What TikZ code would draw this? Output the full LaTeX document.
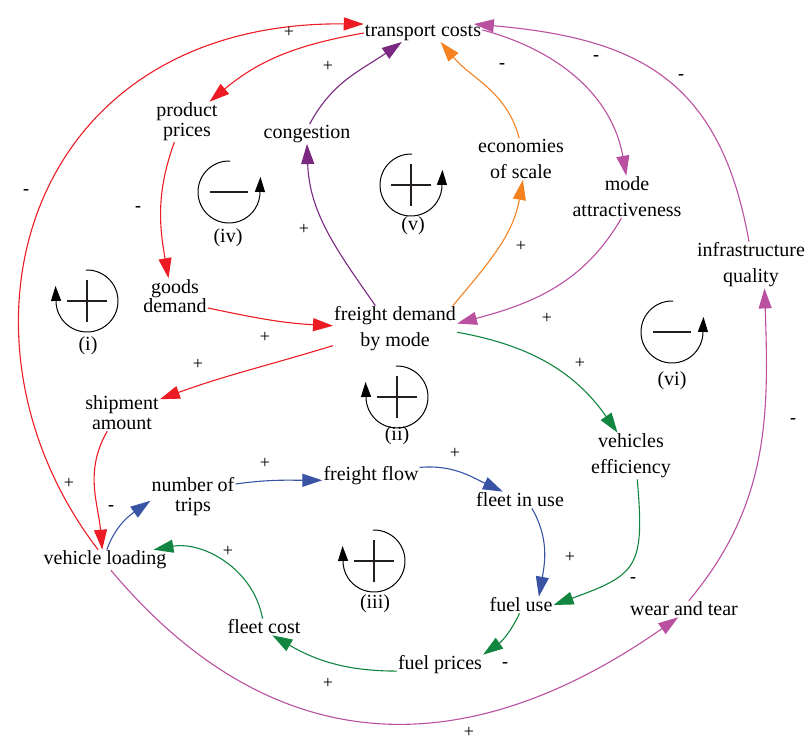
\documentclass[tikz,border=0pt]{standalone}
\usepackage{fontspec}
\setmainfont{Liberation Serif}
\newfontfamily\cldfont{Liberation Serif}
\usetikzlibrary{arrows.meta}
\definecolor{cldred}{RGB}{237,28,36}
\definecolor{cldpurple}{RGB}{122,40,130}
\definecolor{cldorange}{RGB}{245,130,32}
\definecolor{cldmag}{RGB}{185,80,160}
\definecolor{cldgreen}{RGB}{18,134,64}
\definecolor{cldblue}{RGB}{58,84,165}
\definecolor{signgray}{RGB}{35,31,32}

\begin{document}
\begin{tikzpicture}[x=1pt,y=-1pt,
    var/.style={align=center,inner sep=1pt,font=\cldfont\fontsize{20}{26}\selectfont},
    tight/.style={font=\cldfont\fontsize{20}{20}\selectfont},
    pl/.style={inner sep=0pt,font=\cldfont\fontsize{18}{18}\selectfont},
    mi/.style={inner sep=0pt,font=\cldfont\bfseries\fontsize{18}{18}\selectfont},
    lnk/.style={-{Triangle[length=20pt,width=13pt]},line width=1.1pt},
    loopc/.style={-{Triangle[length=15pt,width=10pt]},line width=1pt},
    loops/.style={line width=2.6pt,draw=signgray}]
\useasboundingbox (0,0) rectangle (806,742);

\node[var]       (tc)   at (423,33)  {transport costs};
\node[var,tight] (pp)   at (187,122) {product\\prices};
\node[var]       (cg)   at (307,134) {congestion};
\node[var]       (es)   at (521,159) {economies\\of scale};
\node[var]       (ma)   at (627,197) {mode\\attractiveness};
\node[var]       (iq)   at (751,265) {infrastructure\\quality};
\node[var,font=\cldfont\fontsize{20}{17}\selectfont] (gd) at (175,296) {goods\\demand};
\node[var]       (fd)   at (395,329) {freight demand\\by mode};
\node[var,tight] (sa)   at (122,413) {shipment\\amount};
\node[var]       (ve)   at (631,456) {vehicles\\efficiency};
\node[var,tight] (nt)   at (193,497) {number of\\trips};
\node[var]       (ff)   at (371,476) {freight flow};
\node[var]       (fu)   at (520,500) {fleet in use};
\node[var]       (vl)   at (105,560) {vehicle loading};
\node[var]       (fuse) at (521,605) {fuel use};
\node[var]       (wt)   at (684,609) {wear and tear};
\node[var]       (fc)   at (264,627) {fleet cost};
\node[var]       (fp)   at (440,665) {fuel prices};

\draw[lnk,cldred] (tc.west) to[out=190,in=40] (pp.42);
\draw[lnk,cldred] (pp.238) to[out=250,in=100] (gd.110);
\draw[lnk,cldred] (gd.-20) to[out=-12,in=177] (fd.177);
\draw[lnk,cldred] (fd.195) to[out=197,in=20] (sa.20);
\draw[lnk,cldred] (sa.231) to[out=240,in=95] (vl.105);
\draw[lnk,cldred] (vl.124) .. controls +(-162,-212) and +(-341,-3) .. (tc.north west);

\draw[lnk,cldpurple] (fd.130) to[out=125,in=272] (cg.south);
\draw[lnk,cldpurple] (cg.75) to[out=62,in=215] (tc.203);

\draw[lnk,cldorange] (fd.22) to[out=50,in=260] (es.275);
\draw[lnk,cldorange] (es.95) to[out=105,in=310] (tc.333);

\draw[lnk,cldmag] (tc.3) to[out=-15,in=100] (ma.92);
\draw[lnk,cldmag] (iq.95) to[out=100,in=-5,looseness=1.2] (tc.10);
\draw[lnk,cldmag] (ma.255) to[out=240,in=15] (fd.5);
\draw[lnk,cldmag] (wt.60) to[out=50,in=272] (iq.-60);
\draw[lnk,cldmag] (vl.-60) to[out=-50,in=215,looseness=1.15] (wt.235);

\draw[lnk,cldgreen] (fd.-3) to[out=-10,in=125] (ve.120);
\draw[lnk,cldgreen] (ve.-75) to[out=-85,in=20,looseness=1.5] (fuse.east);
\draw[lnk,cldgreen] (fuse.-100) to[out=245,in=35] (fp.north east);
\draw[lnk,cldgreen] (fp.188) to[out=180,in=-30] (fc.-45);
\draw[lnk,cldgreen] (fc.100) to[out=100,in=10] (vl.12);

\draw[lnk,cldblue] (vl.80) to[out=70,in=215] (nt.185);
\draw[lnk,cldblue] (nt.17) to[out=8,in=180] (ff.185);
\draw[lnk,cldblue] (ff.10) to[out=5,in=155] (fu.154);
\draw[lnk,cldblue] (fu.-35) to[out=-60,in=80] (fuse.25);

\foreach \x/\y [count=\i] in {289/32,328/66,304/229,265/337,198/364,521/246,
    547/318,580/363,69/483,265/463,228/551,328/683,455/453,570/557,469/732}
  \node[pl] (pl\i) at (\x,\y) {+};
\foreach \x/\y [count=\i] in {26/192,138/209,502/66,596/58,681/77,111/508,
    793/421,633/580,505/665}
  \node[mi] (mi\i) at (\x,\y) {-};

\coordinate (li)   at (87,301);
\coordinate (lii)  at (397,397);
\coordinate (liii) at (374,561);
\coordinate (liv)  at (229,192);
\coordinate (lv)   at (411,185);
\coordinate (lvi)  at (672,332);

\foreach \c in {liv,lv,lvi}
  \draw[loopc] ([shift={(88:31pt)}]\c) arc[start angle=88,end angle=362,radius=31pt] -- ++(0.5,-14);
\foreach \c in {li,lii,liii}
  \draw[loopc] ([shift={(92:31pt)}]\c) arc[start angle=92,end angle=-182,radius=31pt] -- ++(-0.5,-14);

\foreach \c in {li,lii,liii,lv}
  \draw[loops] ([xshift=-20pt]\c) -- ([xshift=20pt]\c) ([yshift=-21pt]\c) -- ([yshift=21pt]\c);
\foreach \c in {liv,lvi}
  \draw[loops] ([xshift=-19pt]\c) -- ([xshift=19pt]\c);

\node[var] (ti)   at (88,346)  {(i)};
\node[var] (tii)  at (397,436) {(ii)};
\node[var] (tiii) at (375,604) {(iii)};
\node[var] (tiv)  at (228,238) {(iv)};
\node[var] (tv)   at (413,226) {(v)};
\node[var] (tvi)  at (672,381) {(vi)};
\end{tikzpicture}
\end{document}
